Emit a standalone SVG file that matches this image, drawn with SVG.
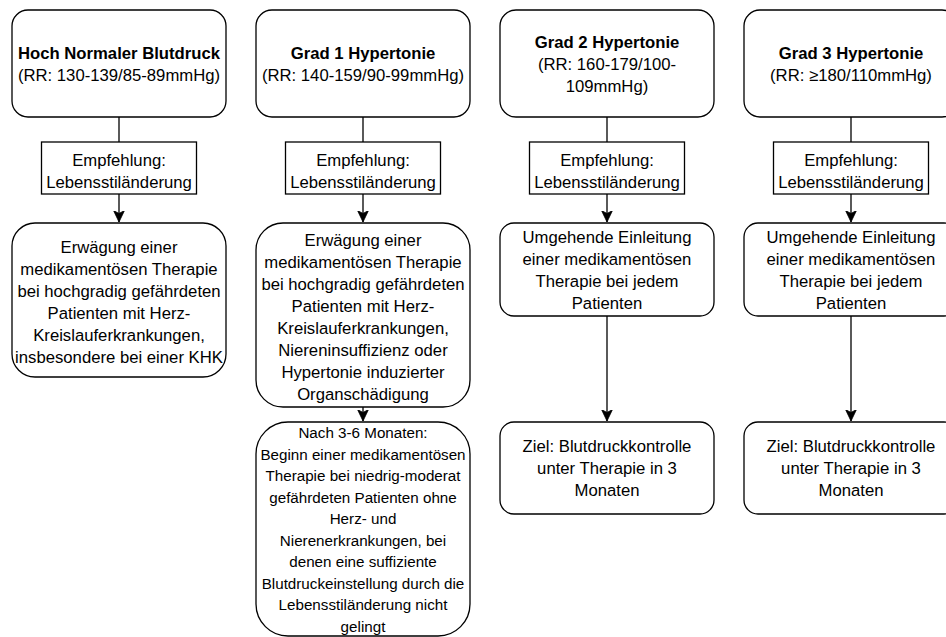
<svg xmlns="http://www.w3.org/2000/svg" width="946" height="637" viewBox="0 0 946 637">
<style>
.box{fill:#fff;stroke:#000;stroke-width:1.3}
.edge{fill:none;stroke:#000;stroke-width:1.3}
.t{font-family:"Liberation Sans",Arial,Helvetica,sans-serif;font-size:16.7px;text-anchor:middle;fill:#000}
.b{font-weight:bold}
.s{font-size:15.2px}
</style>
<defs>
<marker id="arr" viewBox="0 0 12 12" markerWidth="12" markerHeight="12" refX="11.5" refY="6" orient="auto" markerUnits="userSpaceOnUse">
<path d="M0,0.5 L11.5,6 L0,11.5 L3,6 z" fill="#000" stroke="#000" stroke-width="0.8"/>
</marker>
</defs>
<rect width="946" height="637" fill="#fff"/>
<g id="connectors">
<path class="edge" d="M119,117 L119,142"/>
<path class="edge" d="M363,117 L363,142"/>
<path class="edge" d="M607,117 L607,142"/>
<path class="edge" d="M851,117 L851,142"/>
<path class="edge" d="M119,194 L119,222" marker-end="url(#arr)"/>
<path class="edge" d="M363,194 L363,222" marker-end="url(#arr)"/>
<path class="edge" d="M607,194 L607,222" marker-end="url(#arr)"/>
<path class="edge" d="M851,194 L851,222" marker-end="url(#arr)"/>
<path class="edge" d="M363,407 L363,421" marker-end="url(#arr)"/>
<path class="edge" d="M607,316 L607,421" marker-end="url(#arr)"/>
<path class="edge" d="M851,316 L851,421" marker-end="url(#arr)"/>
</g>
<g id="top1">
<rect class="box" x="12" y="10" width="214" height="107" rx="16"/>
<text class="t b" x="119" y="59">Hoch Normaler Blutdruck</text>
<text class="t" x="119" y="81">(RR: 130-139/85-89mmHg)</text>
</g>
<g id="top2">
<rect class="box" x="256" y="10" width="214" height="107" rx="16"/>
<text class="t b" x="363" y="59">Grad 1 Hypertonie</text>
<text class="t" x="363" y="81">(RR: 140-159/90-99mmHg)</text>
</g>
<g id="top3">
<rect class="box" x="500" y="10" width="214" height="107" rx="16"/>
<text class="t b" x="607" y="48">Grad 2 Hypertonie</text>
<text class="t" x="607" y="70">(RR: 160-179/100-</text>
<text class="t" x="607" y="92">109mmHg)</text>
</g>
<g id="top4">
<rect class="box" x="744" y="10" width="214" height="107" rx="16"/>
<text class="t b" x="851" y="59">Grad 3 Hypertonie</text>
<text class="t" x="851" y="81">(RR: ≥180/110mmHg)</text>
</g>
<g id="emp1">
<rect class="box" x="41.5" y="142" width="155" height="52"/>
<text class="t" x="119" y="166">Empfehlung:</text>
<text class="t" x="119" y="188">Lebensstiländerung</text>
</g>
<g id="emp2">
<rect class="box" x="285.5" y="142" width="155" height="52"/>
<text class="t" x="363" y="166">Empfehlung:</text>
<text class="t" x="363" y="188">Lebensstiländerung</text>
</g>
<g id="emp3">
<rect class="box" x="529.5" y="142" width="155" height="52"/>
<text class="t" x="607" y="166">Empfehlung:</text>
<text class="t" x="607" y="188">Lebensstiländerung</text>
</g>
<g id="emp4">
<rect class="box" x="773.5" y="142" width="155" height="52"/>
<text class="t" x="851" y="166">Empfehlung:</text>
<text class="t" x="851" y="188">Lebensstiländerung</text>
</g>
<g id="mid1">
<rect class="box" x="12" y="223" width="214" height="154" rx="23"/>
<text class="t" x="119" y="253">Erwägung einer</text>
<text class="t" x="119" y="275">medikamentösen Therapie</text>
<text class="t" x="119" y="297">bei hochgradig gefährdeten</text>
<text class="t" x="119" y="319">Patienten mit Herz-</text>
<text class="t" x="119" y="341">Kreislauferkrankungen,</text>
<text class="t" x="119" y="363">insbesondere bei einer KHK</text>
</g>
<g id="mid2">
<rect class="box" x="256" y="223" width="214" height="184" rx="27"/>
<text class="t" x="363" y="246">Erwägung einer</text>
<text class="t" x="363" y="268">medikamentösen Therapie</text>
<text class="t" x="363" y="290">bei hochgradig gefährdeten</text>
<text class="t" x="363" y="312">Patienten mit Herz-</text>
<text class="t" x="363" y="334">Kreislauferkrankungen,</text>
<text class="t" x="363" y="356">Niereninsuffizienz oder</text>
<text class="t" x="363" y="378">Hypertonie induzierter</text>
<text class="t" x="363" y="400">Organschädigung</text>
</g>
<g id="nach">
<rect class="box" x="256" y="422" width="214" height="214" rx="32"/>
<text class="t s" x="363" y="438">Nach 3-6 Monaten:</text>
<text class="t s" x="363" y="459.5">Beginn einer medikamentösen</text>
<text class="t s" x="363" y="481">Therapie bei niedrig-moderat</text>
<text class="t s" x="363" y="502.5">gefährdeten Patienten ohne</text>
<text class="t s" x="363" y="524">Herz- und</text>
<text class="t s" x="363" y="545.5">Nierenerkrankungen, bei</text>
<text class="t s" x="363" y="567">denen eine suffiziente</text>
<text class="t s" x="363" y="588.5">Blutdruckeinstellung durch die</text>
<text class="t s" x="363" y="610">Lebensstiländerung nicht</text>
<text class="t s" x="363" y="631.5">gelingt</text>
</g>
<g id="mid3">
<rect class="box" x="500" y="223" width="214" height="93" rx="14"/>
<text class="t" x="607" y="243">Umgehende Einleitung</text>
<text class="t" x="607" y="265">einer medikamentösen</text>
<text class="t" x="607" y="287">Therapie bei jedem</text>
<text class="t" x="607" y="309">Patienten</text>
</g>
<g id="mid4">
<rect class="box" x="744" y="223" width="214" height="93" rx="14"/>
<text class="t" x="851" y="243">Umgehende Einleitung</text>
<text class="t" x="851" y="265">einer medikamentösen</text>
<text class="t" x="851" y="287">Therapie bei jedem</text>
<text class="t" x="851" y="309">Patienten</text>
</g>
<g id="ziel3">
<rect class="box" x="500" y="422" width="214" height="92" rx="14"/>
<text class="t" x="607" y="452">Ziel: Blutdruckkontrolle</text>
<text class="t" x="607" y="474">unter Therapie in 3</text>
<text class="t" x="607" y="496">Monaten</text>
</g>
<g id="ziel4">
<rect class="box" x="744" y="422" width="214" height="92" rx="14"/>
<text class="t" x="851" y="452">Ziel: Blutdruckkontrolle</text>
<text class="t" x="851" y="474">unter Therapie in 3</text>
<text class="t" x="851" y="496">Monaten</text>
</g>
</svg>
